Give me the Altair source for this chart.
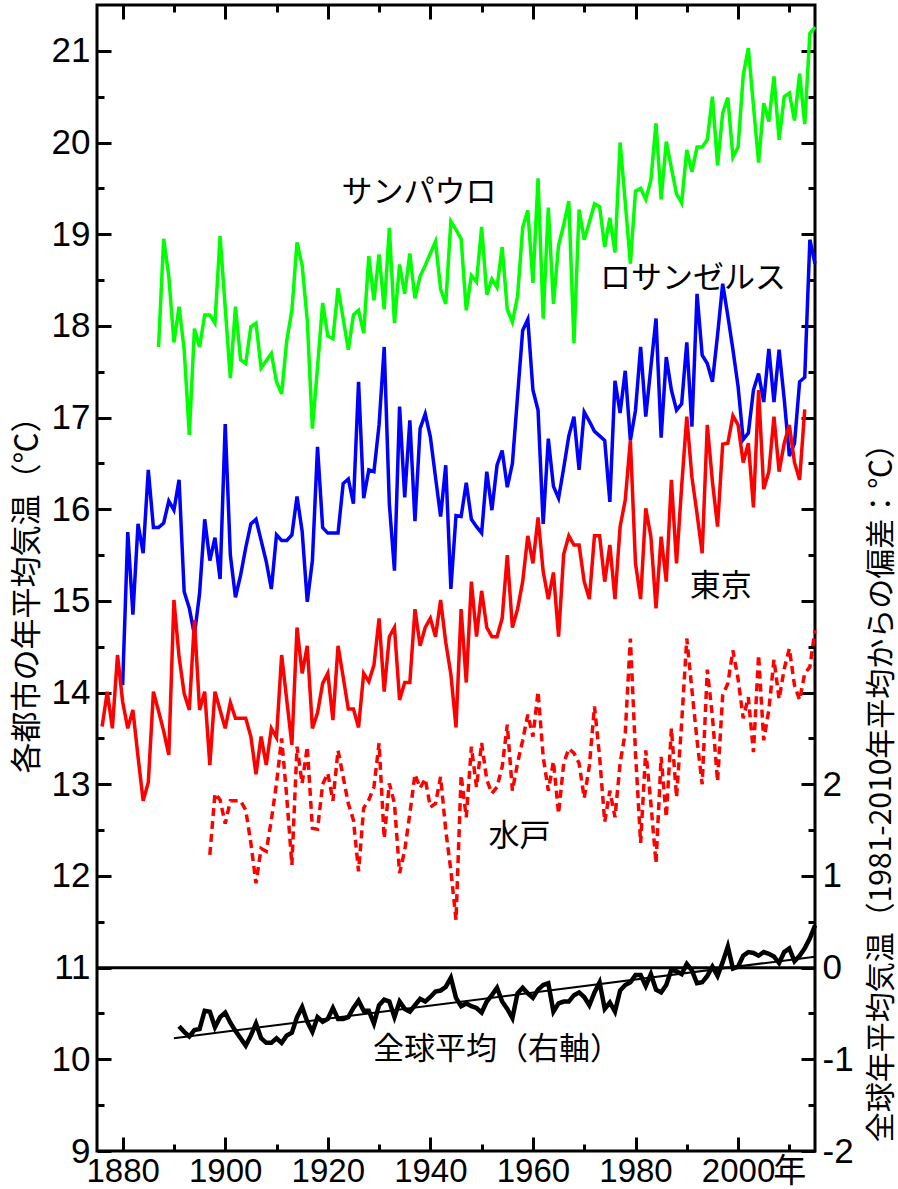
import altair as alt
import pandas as pd

# ---------------- data ----------------
sp_start = 1887  # São Paulo
sp_vals = [
    17.77, 18.95, 18.54,
    17.82, 18.21, 17.74, 16.81, 17.97, 17.77, 18.12, 18.12, 18.03, 18.98,
    18.20, 17.43, 18.21, 17.63, 17.59, 17.99, 18.03, 17.54, 17.62, 17.70,
    17.39, 17.26, 17.84, 18.17, 18.91, 18.66, 18.06, 16.88, 17.55, 18.25,
    17.89, 17.86, 18.41, 18.08, 17.74, 18.12, 18.17, 17.92, 18.76, 18.28,
    18.78, 18.18, 19.07, 18.03, 18.67, 18.35, 18.79, 18.30, 18.54, 18.66,
    18.79, 18.92, 18.40, 18.24, 19.14, 19.05, 18.95, 18.17, 18.55, 18.48,
    19.08, 18.34, 18.51, 18.42, 18.86, 18.18, 18.04, 18.32, 19.07, 19.26,
    18.47, 19.61, 18.08, 19.29, 18.24, 18.88, 19.10, 19.36, 17.81, 19.27,
    18.94, 19.13, 19.33, 19.30, 18.86, 19.18, 18.80, 20.00, 19.35, 18.68,
    19.47, 19.50, 19.38, 19.59, 20.21, 19.38, 20.01, 19.72, 19.44, 19.34,
    19.92, 19.68, 19.95, 19.95, 20.03, 20.50, 19.75, 20.32, 20.49, 19.84,
    19.95, 20.73, 21.03, 20.40, 19.78, 20.43, 20.23, 20.72, 20.03, 20.50,
    20.54, 20.24, 20.75, 20.20, 21.19, 21.26,
]

la_start = 1880  # Los Angeles
la_vals = [
    14.08, 15.75, 14.85, 15.84, 15.52, 16.43, 15.80, 15.80, 15.85, 16.09,
    15.99, 16.32, 15.10, 14.92, 14.63, 15.08, 15.89, 15.44, 15.69, 15.24,
    16.93, 15.50, 15.04, 15.28, 15.58, 15.84, 15.89, 15.66, 15.43, 15.13,
    15.72, 15.66, 15.66, 15.72, 16.14, 15.76, 14.99, 15.44, 16.68, 15.80,
    15.74, 15.74, 15.74, 16.28, 16.33, 16.06, 17.39, 16.12, 16.43, 16.41,
    16.92, 17.77, 16.06, 15.33, 17.12, 16.13, 16.97, 15.87, 16.88, 17.04,
    16.79, 16.35, 15.92, 16.48, 15.13, 15.93, 15.92, 16.29, 15.89, 15.81,
    15.74, 16.41, 15.99, 16.48, 16.64, 16.24, 16.50, 17.23, 17.95, 18.07,
    17.30, 17.08, 15.84, 16.77, 16.25, 16.12, 16.45, 16.80, 17.01, 16.43,
    17.06, 16.96, 16.85, 16.80, 16.75, 16.08, 17.40, 17.05, 17.51, 16.75,
    17.08, 17.77, 17.01, 17.55, 18.08, 16.78, 17.66, 17.30, 17.08, 17.15,
    17.82, 16.90, 18.35, 17.68, 17.59, 17.39, 17.90, 18.46, 18.11, 17.74,
    17.34, 16.76, 16.83, 17.30, 17.48, 17.17, 17.75, 17.17, 17.74, 17.20,
    16.58, 16.72, 17.39, 17.44, 18.94, 18.68,
]

tokyo_start = 1876  # Tokyo
tokyo_vals = [
    13.63, 14.01, 13.61, 14.41,
    13.90, 13.61, 13.81, 13.30, 12.82, 13.02, 14.01, 13.80, 13.58, 13.32,
    15.01, 14.39, 13.99, 13.81, 14.79, 13.81, 14.01, 13.21, 14.01, 13.81,
    13.61, 13.89, 13.72, 13.72, 13.72, 13.52, 13.11, 13.52, 13.21, 13.61,
    13.51, 14.41, 13.92, 13.43, 14.71, 14.21, 14.51, 13.61, 13.78, 14.10,
    14.21, 13.70, 14.51, 14.17, 13.82, 13.82, 13.62, 14.21, 14.12, 14.30,
    14.81, 14.01, 14.61, 14.71, 13.92, 14.11, 14.11, 14.91, 14.51, 14.71,
    14.81, 14.61, 15.01, 14.55, 14.20, 13.62, 14.91, 14.11, 15.21, 14.61,
    15.11, 14.71, 14.61, 14.61, 14.81, 15.50, 14.71, 14.91, 15.21, 15.71,
    15.41, 15.91, 15.32, 15.02, 15.31, 14.61, 15.51, 15.71, 15.61, 15.61,
    15.21, 15.02, 15.71, 15.71, 15.21, 15.61, 15.02, 15.81, 16.10, 16.75,
    15.41, 15.02, 16.01, 15.70, 14.92, 15.70, 15.21, 16.32, 15.41, 16.25,
    17.01, 16.35, 15.95, 15.52, 16.92, 16.30, 15.81, 16.71, 16.72, 17.02,
    16.92, 16.51, 16.72, 16.02, 17.30, 16.22, 16.41, 17.01, 16.41, 16.72,
    16.92, 16.51, 16.32, 17.09,
]

mito_start = 1897  # Mito
mito_vals = [
    12.23, 12.90, 12.83,
    12.57, 12.82, 12.82, 12.82, 12.72, 12.36, 11.92, 12.30, 12.27, 12.61,
    13.01, 13.50, 12.86, 12.12, 13.41, 13.01, 13.41, 12.52, 12.51, 13.00,
    13.12, 12.82, 13.37, 13.08, 12.79, 12.61, 12.05, 12.74, 12.83, 12.97,
    13.45, 12.41, 13.01, 12.79, 12.03, 12.28, 12.68, 13.11, 12.96, 13.06,
    12.75, 12.79, 13.08, 12.50, 12.06, 11.52, 13.10, 12.64, 13.41, 12.97,
    13.45, 13.05, 12.90, 12.97, 13.19, 13.65, 12.93, 13.23, 13.48, 13.76,
    13.52, 14.01, 13.30, 12.93, 13.25, 12.68, 13.23, 13.39, 13.34, 13.23,
    12.85, 13.20, 13.85, 13.30, 12.59, 12.93, 12.64, 13.23, 13.56, 14.59,
    13.34, 12.36, 13.37, 12.79, 12.14, 13.30, 12.64, 13.61, 12.86, 13.67,
    14.59, 14.03, 13.48, 13.00, 14.25, 13.74, 13.03, 13.97, 14.10, 14.46,
    14.15, 13.72, 13.95, 13.35, 14.41, 13.48, 13.81, 14.36, 13.93, 14.26,
    14.48, 14.08, 13.92, 14.21, 14.28, 14.68,
]

glob_start = 1891  # global mean anomaly (right axis, deg C vs 1981-2010)
glob_anom = [
    -0.64, -0.70, -0.75, -0.68, -0.67, -0.47, -0.48, -0.65, -0.54,
    -0.49, -0.60, -0.69, -0.77, -0.85, -0.74, -0.61, -0.77, -0.82, -0.82,
    -0.77, -0.82, -0.74, -0.71, -0.54, -0.43, -0.59, -0.70, -0.54, -0.59,
    -0.56, -0.44, -0.56, -0.56, -0.54, -0.44, -0.36, -0.47, -0.47, -0.61,
    -0.41, -0.35, -0.37, -0.54, -0.37, -0.45, -0.48, -0.41, -0.34, -0.37,
    -0.32, -0.26, -0.25, -0.21, -0.11, -0.33, -0.42, -0.39, -0.42, -0.44,
    -0.49, -0.37, -0.30, -0.22, -0.37, -0.45, -0.55, -0.28, -0.22, -0.28,
    -0.33, -0.24, -0.19, -0.17, -0.48, -0.39, -0.37, -0.37, -0.30, -0.27,
    -0.32, -0.41, -0.27, -0.16, -0.45, -0.38, -0.48, -0.25, -0.19, -0.16,
    -0.08, -0.08, -0.20, -0.07, -0.24, -0.27, -0.19, -0.02, -0.04, -0.07,
    0.04, -0.03, -0.17, -0.16, -0.09, 0.01, -0.09, 0.06, 0.23, -0.01,
    0.01, 0.13, 0.17, 0.16, 0.13, 0.17, 0.15, 0.12, 0.05, 0.17,
    0.21, 0.07, 0.13, 0.21, 0.32, 0.46,
]

trend_years = [1890, 2015]
trend_anom = [-0.77, 0.12]

label_texts = ["サンパウロ", "ロサンゼルス", "東京", "水戸", "全球平均（右軸）"]
label_years = [1937.8, 1991.2, 1996.6, 1957.4, 1953.0]
label_temps = [19.45, 18.51, 15.15, 12.43, 10.10]

x_labels = [1880, 1900, 1920, 1940, 1960, 1980, 2000, 2010]
x_major = [1880, 1900, 1920, 1940, 1960, 1980, 2000]
x_minor = [1890, 1910, 1930, 1950, 1970, 1990, 2010]
y_major = [9, 10, 11, 12, 13, 14, 15, 16, 17, 18, 19, 20, 21]
y_minor = [9.5, 10.5, 11.5, 12.5, 13.5, 14.5, 15.5, 16.5, 17.5, 18.5, 19.5, 20.5]
right_label_vals = [9, 10, 11, 12, 13]


def series_df(start, vals):
    return pd.DataFrame({"year": list(range(start, start + len(vals))), "temp": vals})


sp_df = series_df(sp_start, sp_vals)
la_df = series_df(la_start, la_vals)
tokyo_df = series_df(tokyo_start, tokyo_vals)
mito_df = series_df(mito_start, mito_vals)
glob_df = pd.DataFrame({"year": list(range(glob_start, glob_start + len(glob_anom))), "anom": glob_anom})
trend_df = pd.DataFrame({"year": trend_years, "anom": trend_anom})
label_df = pd.DataFrame({"text": label_texts, "year": label_years, "temp": label_temps})

# ---------------- styling ----------------
NUM_FONT = "Liberation Sans Narrow, Liberation Sans, Arial, Noto Sans CJK JP, sans-serif"
JP_FONT = "Noto Sans CJK JP, Noto Sans, sans-serif"
W, H = 718, 1146
X_DOMAIN = [1875, 2015]
Y_DOMAIN = [9, 21.5]
MAJOR, MINOR = 14, 7

xs = alt.Scale(domain=X_DOMAIN, nice=False, zero=False)
ys = alt.Scale(domain=Y_DOMAIN, nice=False, zero=False)


def tick_axis(orient, values, size):
    return alt.Axis(orient=orient, values=values, labels=False, ticks=True,
                    tickSize={"expr": str(-size)}, tickWidth=3, tickColor="black",
                    domain=False, grid=False, title=None)


x_label_axis = alt.Axis(
    orient="bottom", values=x_labels, ticks=False, tickSize=0, domain=False, grid=False,
    labelExpr="datum.value == 2010 ? '年' : '' + datum.value",
    labelFont=NUM_FONT, labelFontSize=33, labelColor="black", labelPadding=4,
    labelOverlap=False, labelFlush=False, title=None)

y_left_axis = alt.Axis(
    orient="left", values=y_major, ticks=False, tickSize=0, domain=False, grid=False,
    labelExpr="'' + datum.value",
    labelFont=NUM_FONT, labelFontSize=35, labelColor="black", labelPadding=7,
    labelOverlap=False, labelFlush=False,
    title="各都市の年平均気温（℃）", titleFont=JP_FONT, titleFontSize=31,
    titleFontWeight="normal", titleColor="black", titleAngle=270,
    titleX=-70, titleY=582, titleAlign="center", titleBaseline="middle")

y_right_axis = alt.Axis(
    orient="right", values=right_label_vals, ticks=False, tickSize=0, domain=False, grid=False,
    labelExpr="'' + (datum.value - 11)",
    labelFont=NUM_FONT, labelFontSize=35, labelColor="black", labelPadding=7,
    labelOverlap=False, labelFlush=False,
    title="全球年平均気温（1981-2010年平均からの偏差：℃）", titleFont=JP_FONT, titleFontSize=30,
    titleFontWeight="normal", titleColor="black", titleAngle=270,
    titleX=66, titleY=780, titleAlign="center", titleBaseline="middle")

sp_layer = alt.Chart(sp_df).mark_line(color="#00ff00", strokeWidth=3.5).encode(
    x=alt.X("year:Q", scale=xs, axis=x_label_axis),
    y=alt.Y("temp:Q", scale=ys, axis=y_left_axis))

la_layer = alt.Chart(la_df).mark_line(color="#0000ff", strokeWidth=3.5).encode(
    x=alt.X("year:Q", scale=xs, axis=tick_axis("bottom", x_major, MAJOR)),
    y=alt.Y("temp:Q", scale=ys, axis=tick_axis("left", y_major, MAJOR)))

tokyo_layer = alt.Chart(tokyo_df).mark_line(color="#ff0000", strokeWidth=3.5).encode(
    x=alt.X("year:Q", scale=xs, axis=tick_axis("bottom", x_minor, MINOR)),
    y=alt.Y("temp:Q", scale=ys, axis=tick_axis("left", y_minor, MINOR)))

mito_layer = alt.Chart(mito_df).mark_line(color="#ff0000", strokeWidth=3.5, strokeDash=[8, 5]).encode(
    x=alt.X("year:Q", scale=xs, axis=tick_axis("top", x_major, MAJOR)),
    y=alt.Y("temp:Q", scale=ys, axis=y_right_axis))

glob_layer = alt.Chart(glob_df).transform_calculate(
    temp="datum.anom + 11").mark_line(color="black", strokeWidth=4.5).encode(
    x=alt.X("year:Q", scale=xs, axis=tick_axis("top", x_minor, MINOR)),
    y=alt.Y("temp:Q", scale=ys, axis=tick_axis("right", y_major, MAJOR)))

trend_layer = alt.Chart(trend_df).transform_calculate(
    temp="datum.anom + 11").mark_line(color="black", strokeWidth=2).encode(
    x=alt.X("year:Q", scale=xs, axis=None),
    y=alt.Y("temp:Q", scale=ys, axis=tick_axis("right", y_minor, MINOR)))

zero_layer = alt.Chart(pd.DataFrame({"anom": [0]})).transform_calculate(
    temp="datum.anom + 11").mark_rule(color="black", strokeWidth=3).encode(
    y=alt.Y("temp:Q", scale=ys, axis=None))

text_layer = alt.Chart(label_df).mark_text(
    font=JP_FONT, fontSize=31, color="black", align="center", baseline="middle").encode(
    x=alt.X("year:Q", scale=xs, axis=None),
    y=alt.Y("temp:Q", scale=ys, axis=None),
    text="text:N")

chart = alt.layer(
    zero_layer, trend_layer, glob_layer, mito_layer, sp_layer, la_layer, tokyo_layer, text_layer
).resolve_axis(x="independent", y="independent").properties(
    width=W, height=H,
    padding={"left": 97, "top": 5, "right": 83, "bottom": 38},
    autosize=alt.AutoSizeParams(type="none"),
    background="white",
).configure_view(stroke="black", strokeWidth=3).configure_axis(grid=False, domain=False)

chart.save("out.html", embed_options={"renderer": "svg", "actions": False})
